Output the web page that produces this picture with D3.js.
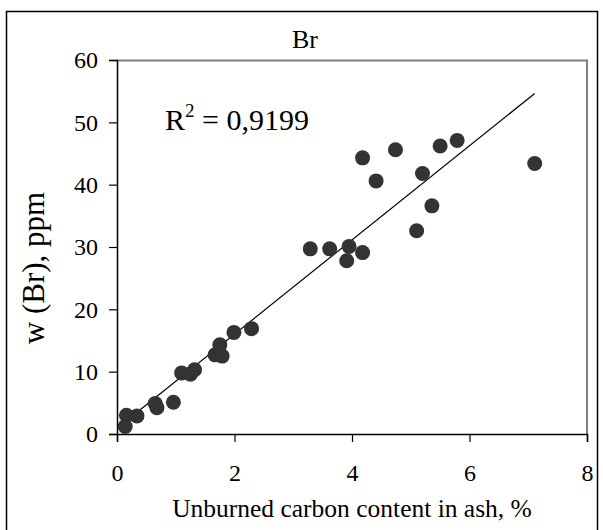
<!DOCTYPE html>
<html>
<head>
<meta charset="utf-8">
<script src="https://cdn.jsdelivr.net/npm/d3@7"></script>
<style>
  body { margin: 0; background: #fff; }
  text { font-family: "Liberation Serif", "Times New Roman", serif; fill: #000; }
</style>
</head>
<body>
<div id="chart"></div>
<script>
// Unburned carbon (%) vs Br content (ppm)
var carbon = [0.14, 0.16, 0.34, 0.65, 0.68, 0.96, 1.10, 1.25, 1.32, 1.67, 1.75, 1.79,
              1.99, 2.29, 3.29, 3.62, 3.91, 3.95, 4.18, 4.18, 4.41, 4.74, 5.10, 5.20,
              5.36, 5.50, 5.79, 7.11];
var bromine = [1.2, 3.0, 2.9, 4.9, 4.2, 5.1, 9.8, 9.6, 10.3, 12.7, 14.3, 12.5,
               16.3, 16.9, 29.7, 29.7, 27.8, 30.1, 29.1, 44.3, 40.6, 45.6, 32.6, 41.8,
               36.6, 46.2, 47.1, 43.4];
var xTicks = [0, 2, 4, 6, 8];
var yTicks = [0, 10, 20, 30, 40, 50, 60];
var title = "Br";
var rSquared = "0,9199";

var width = 603, height = 530;
var margin = {top: 60, right: 16, bottom: 96, left: 117};

var svg = d3.select("#chart").append("svg")
    .attr("width", width)
    .attr("height", height);

// outer frame (bottom edge runs off the page)
svg.append("rect")
    .attr("x", 6.5).attr("y", 11.5)
    .attr("width", 591).attr("height", 540)
    .attr("fill", "none").attr("stroke", "#000").attr("stroke-width", 1.5);

var inner_w = width - margin.left - margin.right;
var inner_h = height - margin.top - margin.bottom;

var x = d3.scaleLinear().domain([0, 8]).range([0, inner_w]);
var y = d3.scaleLinear().domain([0, 60]).range([inner_h, 0]);

var g = svg.append("g")
    .attr("transform", "translate(" + margin.left + "," + margin.top + ")");

// grey top/right border of plot area
g.append("path")
    .attr("d", "M0,0.5H" + inner_w + "V" + inner_h)
    .attr("fill", "none").attr("stroke", "#808080").attr("stroke-width", 2);

var xAxis = g.append("g")
    .attr("transform", "translate(0," + inner_h + ")")
    .call(d3.axisBottom(x).tickValues(xTicks).tickSize(8).tickPadding(22));
var yAxis = g.append("g")
    .call(d3.axisLeft(y).tickValues(yTicks).tickSize(8).tickPadding(11));

[xAxis, yAxis].forEach(function(a) {
    a.select(".domain").attr("stroke", "#000").attr("stroke-width", 1.5);
    a.selectAll(".tick line").attr("stroke", "#000").attr("stroke-width", 1.2);
    a.selectAll("text")
        .style("font-family", "'Liberation Serif', serif")
        .style("font-size", "24px")
        .attr("fill", "#000");
});

// linear trend line (least squares)
var pts = carbon.map(function(c, i) { return {x: c, y: bromine[i]}; });
var mx = d3.mean(pts, function(d) { return d.x; });
var my = d3.mean(pts, function(d) { return d.y; });
var slope = d3.sum(pts, function(d) { return (d.x - mx) * (d.y - my); }) /
            d3.sum(pts, function(d) { return (d.x - mx) * (d.x - mx); });
var icpt = my - slope * mx;
var xr = d3.extent(carbon);

g.append("line")
    .attr("x1", x(xr[0])).attr("y1", y(icpt + slope * xr[0]))
    .attr("x2", x(xr[1])).attr("y2", y(icpt + slope * xr[1]))
    .attr("stroke", "#000").attr("stroke-width", 1.2);

g.selectAll("circle")
    .data(pts)
    .enter().append("circle")
    .attr("cx", function(d) { return x(d.x); })
    .attr("cy", function(d) { return y(d.y); })
    .attr("r", 7.5)
    .attr("fill", "#333");

// R^2 label
var rt = svg.append("text")
    .attr("x", 165).attr("y", 130)
    .style("font-size", "30px");
rt.append("tspan").text("R");
rt.append("tspan").attr("dy", -13).style("font-size", "19px").text("2");
rt.append("tspan").attr("dy", 13).text(" = " + rSquared);

// title
svg.append("text")
    .attr("x", 305).attr("y", 48)
    .attr("text-anchor", "middle")
    .style("font-size", "26px")
    .text(title);

// axis titles
svg.append("text")
    .attr("x", 352).attr("y", 517)
    .attr("text-anchor", "middle")
    .style("font-size", "25.5px")
    .text("Unburned carbon content in ash, %");

svg.append("text")
    .attr("transform", "translate(44,268) rotate(-90)")
    .attr("text-anchor", "middle")
    .style("font-size", "31px")
    .text("w (Br), ppm");
</script>
</body>
</html>
